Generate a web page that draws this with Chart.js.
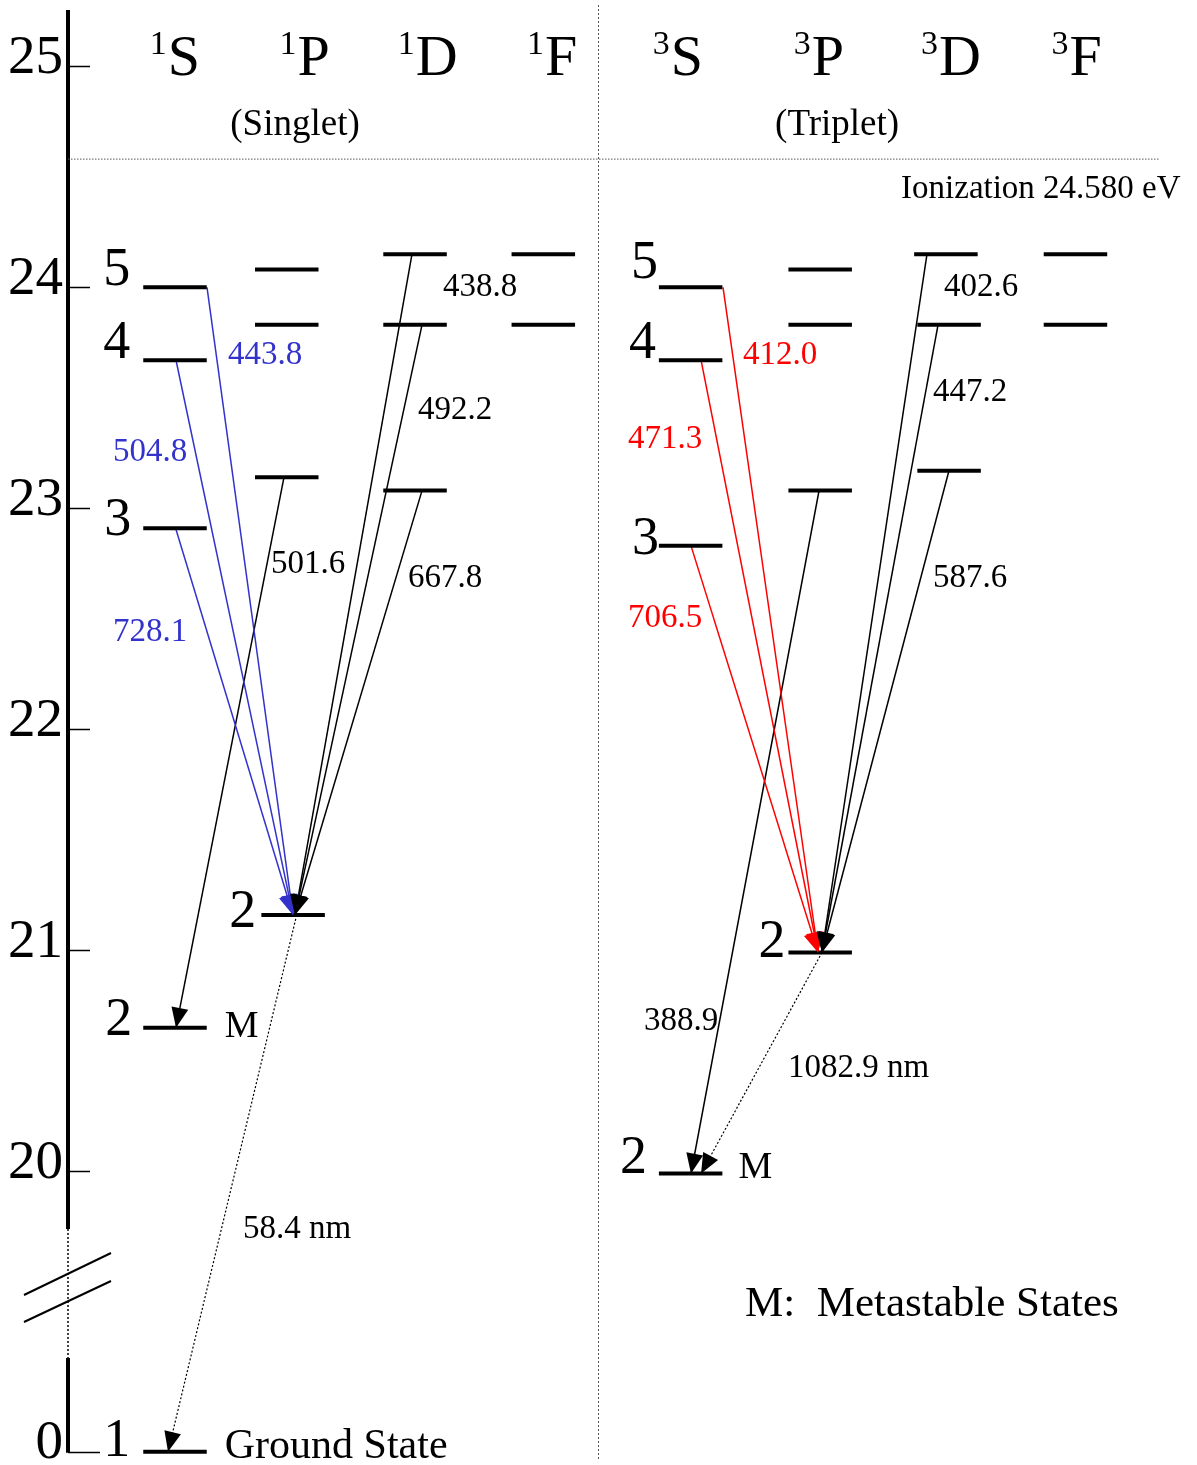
<!DOCTYPE html>
<html>
<head>
<meta charset="utf-8">
<title>Helium energy levels</title>
<script src="https://cdn.jsdelivr.net/npm/chart.js@4.4.1/dist/chart.umd.min.js"></script>
<style>
  html, body { margin: 0; padding: 0; background: #fff; }
  #box { width: 1197px; height: 1465px; position: relative; }
</style>
</head>
<body>
<div id="box"><canvas id="grotrian"></canvas></div>
<script>
// ---- data (energies in eV, wavelengths in nm) ----
const terms = ['1S', '1P', '1D', '1F', '3S', '3P', '3D', '3F'];
const levelTerm = ['1S','1S','1S','1S','1S', '1P','1P','1P','1P', '1D','1D','1D', '1F','1F',
                   '3S','3S','3S','3S', '3P','3P','3P','3P', '3D','3D','3D', '3F','3F'];
const levelN = [1, 2, 3, 4, 5,  2, 3, 4, 5,  3, 4, 5,  4, 5,  2, 3, 4, 5,  2, 3, 4, 5,  3, 4, 5,  4, 5];
const levelEnergy = [0, 20.65, 22.91, 23.67, 24.00,  21.16, 23.14, 23.83, 24.08,  23.08, 23.83, 24.15,  23.83, 24.15,
                     19.99, 22.83, 23.67, 24.00,  20.99, 23.08, 23.83, 24.08,  23.17, 23.83, 24.15,  23.83, 24.15];
const metastable = ['2 1S', '2 3S'];

const transFrom = ['5 1S','4 1S','3 1S','3 1P','5 1D','4 1D','3 1D','2 1P',
                   '5 3S','4 3S','3 3S','3 3P','5 3D','4 3D','3 3D','2 3P'];
const transTo = ['2 1P','2 1P','2 1P','2 1S','2 1P','2 1P','2 1P','1 1S',
                 '2 3P','2 3P','2 3P','2 3S','2 3P','2 3P','2 3P','2 3S'];
const transLabel = ['443.8','504.8','728.1','501.6','438.8','492.2','667.8','58.4 nm',
                    '412.0','471.3','706.5','388.9','402.6','447.2','587.6','1082.9 nm'];
const transKind = ['singletS','singletS','singletS','plain','plain','plain','plain','uv',
                   'tripletS','tripletS','tripletS','plain','plain','plain','plain','ir'];

const ionization = 24.580;
const yTicks = [0, 20, 21, 22, 23, 24, 25];

// ---- layout ----
const X_MIN = -0.8425, X_MAX = 8.047;
const Y_MIN = 18.671, Y_MAX = 25.30;
const GROUND_AT = 18.731;            // where 0 eV sits below the axis break
const AXIS_TOP = 25.255, BREAK_HI = 19.739, BREAK_LO = 19.155, BREAK_MID = 19.472;
const SEPARATOR_X = 3.331, IONIZ_END = 7.756;
const termX = [0, 0.88, 1.89, 2.90, 4.06, 5.08, 6.07, 7.09];
const headerX = [0, 1.02, 1.99, 2.97, 3.96, 5.07, 6.11, 7.10];
const barHalf = 0.25;
const levelShift = { '2 1P': 0.05, '3 3D': 0.025, '4 3D': 0.025 };
const transDx = [[0.252, 0.049], [0.008, 0.049], [0.005, 0.049], [-0.022, 0.008], [-0.024, 0.065], [0.055, 0.065],
                 [0.055, 0.065], [0.078, -0.055], [0.255, -0.017], [0.082, -0.017], [0.003, -0.017], [-0.009, 0.003],
                 [-0.149, 0.014], [-0.062, 0.014], [0.024, 0.014], [0.014, 0.082]];
const transLabelPos = [[0.417, 23.703], [-0.488, 23.264], [-0.488, 22.449], [0.756, 22.757], [2.110, 24.010], [1.913, 23.454],
                       [1.835, 22.694], [0.535, 19.748], [4.472, 23.703], [3.567, 23.323], [3.567, 22.513], [3.693, 20.689],
                       [6.055, 24.010], [5.969, 23.535], [5.969, 22.694], [4.827, 20.476]];
// level number labels: [gap to bar px, rise px]
const levelLabelLayout = { '1 1S': [13, 12], '2 1S': [11, 9], '3 1S': [12, 9], '4 1S': [13, 18], '5 1S': [13, 18],
                           '2 1P': [5, 4], '2 3S': [12, 17], '3 3S': [0, 8], '4 3S': [3, 18], '5 3S': [1, 25], '2 3P': [3, 12] };
const metaLayout = [[18, 3], [16, 7]];
const HEADER_E = 24.961, GROUP_E = 24.743;
const TEXT_NUDGE = 2;                // Liberation Serif sits a little high on 'middle'

const fontFam = '"Liberation Serif", "Times New Roman", serif';
const colours = { singletS: '#3333cc', tripletS: '#ff0000', plain: '#000000', uv: '#000000', ir: '#000000' };
const dotted = { uv: true, ir: true };

const idx = {};
levelTerm.forEach((t, i) => { idx[levelN[i] + ' ' + t] = i; });
const plotE = e => (e < 1 ? GROUND_AT : e);
const colX = t => termX[terms.indexOf(t)];

const levelSets = levelTerm.map((t, i) => {
    const key = levelN[i] + ' ' + t;
    const cx = colX(t) + (levelShift[key] || 0);
    const e = plotE(levelEnergy[i]);
    return {
        data: [{ x: cx - barHalf, y: e }, { x: cx + barHalf, y: e }],
        borderColor: '#000', borderWidth: 4, borderCapStyle: 'butt',
        showLine: true, pointRadius: 0, order: 0
    };
});

const transSets = transFrom.map((f, i) => {
    const a = idx[f], b = idx[transTo[i]];
    const kind = transKind[i];
    return {
        data: [
            { x: colX(levelTerm[a]) + transDx[i][0], y: plotE(levelEnergy[a]) },
            { x: colX(levelTerm[b]) + transDx[i][1], y: plotE(levelEnergy[b]) }
        ],
        borderColor: colours[kind], borderWidth: dotted[kind] ? 1.2 : 1.5,
        borderDash: dotted[kind] ? [2, 2] : [],
        showLine: true, pointRadius: 0, order: 1, arrow: true
    };
});

const ionLine = {
    data: [{ x: X_MIN, y: ionization }, { x: IONIZ_END, y: ionization }],
    borderColor: '#555', borderWidth: 1, borderDash: [1.5, 1.5],
    showLine: true, pointRadius: 0, order: 2
};

function put(ctx, text, px, py, size, color, align, baseline) {
    ctx.font = size + 'px ' + fontFam;
    ctx.fillStyle = color || '#000';
    ctx.textAlign = align || 'left';
    ctx.textBaseline = baseline || 'middle';
    ctx.fillText(text, px, ctx.textBaseline === 'middle' ? py + TEXT_NUDGE : py);
}

const grotrianDecor = {
    id: 'grotrianDecor',
    beforeDatasetsDraw(chart) {
        const { ctx, chartArea, scales: { x, y } } = chart;
        ctx.save();
        // singlet / triplet separator
        const sx = Math.round(x.getPixelForValue(SEPARATOR_X)) + 0.5;
        ctx.strokeStyle = '#555'; ctx.lineWidth = 1; ctx.setLineDash([2, 2]);
        ctx.beginPath(); ctx.moveTo(sx, chartArea.top + 5); ctx.lineTo(sx, chartArea.bottom - 5); ctx.stroke();

        // energy axis with a break
        const ax = chartArea.left;
        const yTop = y.getPixelForValue(AXIS_TOP), yB1 = y.getPixelForValue(BREAK_HI);
        const yB2 = y.getPixelForValue(BREAK_LO), y0 = y.getPixelForValue(GROUND_AT);
        ctx.strokeStyle = '#000'; ctx.setLineDash([]); ctx.lineWidth = 4;
        ctx.beginPath();
        ctx.moveTo(ax, yTop); ctx.lineTo(ax, yB1);
        ctx.moveTo(ax, yB2); ctx.lineTo(ax, y0 + 1);
        ctx.stroke();
        ctx.lineWidth = 1.5; ctx.setLineDash([2, 2]);
        ctx.beginPath(); ctx.moveTo(ax, yB1); ctx.lineTo(ax, yB2); ctx.stroke();

        ctx.setLineDash([]); ctx.lineWidth = 1.5;
        ctx.beginPath();
        y.ticks.forEach((t, i) => {
            const py = Math.round(y.getPixelForValue(t.value)) + 0.5;
            ctx.moveTo(ax, py); ctx.lineTo(ax + (yTicks[i] === 0 ? 32 : 22), py);
        });
        ctx.stroke();

        // break marks
        const ym = y.getPixelForValue(BREAK_MID);
        ctx.lineWidth = 2;
        ctx.beginPath();
        ctx.moveTo(ax - 44, ym + 7); ctx.lineTo(ax + 43, ym - 35);
        ctx.moveTo(ax - 44, ym + 34); ctx.lineTo(ax + 43, ym - 7);
        ctx.stroke();
        ctx.restore();
    },
    afterDatasetsDraw(chart) {
        const { ctx } = chart;
        ctx.save();
        chart.data.datasets.forEach((ds, i) => {
            if (!ds.arrow) return;
            const pts = chart.getDatasetMeta(i).data;
            const p0 = pts[0], p1 = pts[1];
            const ang = Math.atan2(p1.y - p0.y, p1.x - p0.x);
            const len = 20, half = 8.5;
            ctx.fillStyle = ds.borderColor;
            ctx.beginPath();
            ctx.moveTo(p1.x, p1.y);
            ctx.lineTo(p1.x - len * Math.cos(ang) + half * Math.sin(ang), p1.y - len * Math.sin(ang) - half * Math.cos(ang));
            ctx.lineTo(p1.x - len * Math.cos(ang) - half * Math.sin(ang), p1.y - len * Math.sin(ang) + half * Math.cos(ang));
            ctx.closePath();
            ctx.fill();
        });
        ctx.restore();
    },
    afterDraw(chart) {
        const { ctx, scales: { x, y } } = chart;
        ctx.save();
        // term headers with superscript multiplicity
        terms.forEach((t, i) => {
            const cx = x.getPixelForValue(headerX[i]), by = y.getPixelForValue(HEADER_E);
            ctx.font = '34px ' + fontFam; const ws = ctx.measureText(t[0]).width;
            ctx.font = '58px ' + fontFam; const wm = ctx.measureText(t[1]).width;
            const x0 = cx - (ws + wm + 1) / 2;
            put(ctx, t[0], x0, by - 21, 34, '#000', 'left', 'alphabetic');
            put(ctx, t[1], x0 + ws + 1, by, 58, '#000', 'left', 'alphabetic');
        });
        put(ctx, '(Singlet)', x.getPixelForValue(0.945), y.getPixelForValue(GROUP_E), 37, '#000', 'center');
        put(ctx, '(Triplet)', x.getPixelForValue(5.213), y.getPixelForValue(GROUP_E), 37, '#000', 'center');
        put(ctx, 'Ionization ' + ionization.toFixed(3) + ' eV', x.getPixelForValue(5.717), y.getPixelForValue(24.454), 33);

        // principal quantum numbers
        Object.keys(levelLabelLayout).forEach(key => {
            const i = idx[key];
            const [gap, rise] = levelLabelLayout[key];
            const left = colX(levelTerm[i]) + (levelShift[key] || 0) - barHalf;
            put(ctx, String(levelN[i]), x.getPixelForValue(left) - gap,
                y.getPixelForValue(plotE(levelEnergy[i])) - rise, 54, '#000', 'right');
        });

        // metastable markers and ground state
        metastable.forEach((key, k) => {
            const i = idx[key];
            const right = colX(levelTerm[i]) + barHalf;
            put(ctx, 'M', x.getPixelForValue(right) + metaLayout[k][0],
                y.getPixelForValue(plotE(levelEnergy[i])) - metaLayout[k][1], 38);
        });
        const g = idx['1 1S'];
        put(ctx, 'Ground State', x.getPixelForValue(colX('1S') + barHalf) + 18,
            y.getPixelForValue(plotE(levelEnergy[g])) - 7, 42);
        put(ctx, 'M:  Metastable States', x.getPixelForValue(4.488), y.getPixelForValue(19.404), 43);

        // wavelengths
        transLabel.forEach((s, i) => {
            put(ctx, s, x.getPixelForValue(transLabelPos[i][0]), y.getPixelForValue(transLabelPos[i][1]),
                33, colours[transKind[i]]);
        });
        ctx.restore();
    }
};

new Chart(document.getElementById('grotrian'), {
    type: 'scatter',
    data: { datasets: [...levelSets, ...transSets, ionLine] },
    options: {
        responsive: true,
        maintainAspectRatio: false,
        animation: false,
        events: [],
        layout: { padding: 0 },
        plugins: { legend: { display: false }, tooltip: { enabled: false } },
        scales: {
            x: { type: 'linear', display: false, min: X_MIN, max: X_MAX },
            y: {
                type: 'linear', position: 'left', min: Y_MIN, max: Y_MAX,
                afterBuildTicks: s => { s.ticks = yTicks.map(v => ({ value: plotE(v) })); },
                afterFit: s => { s.width = 68; s.paddingTop = 0; s.paddingBottom = 0; },
                grid: { display: false, drawTicks: false },
                border: { display: false },
                ticks: {
                    autoSkip: false, padding: 5, labelOffset: -8, color: '#000',
                    font: { family: fontFam, size: 55 },
                    callback: (v, i) => String(yTicks[i])
                }
            }
        }
    },
    plugins: [grotrianDecor]
});
</script>
</body>
</html>
